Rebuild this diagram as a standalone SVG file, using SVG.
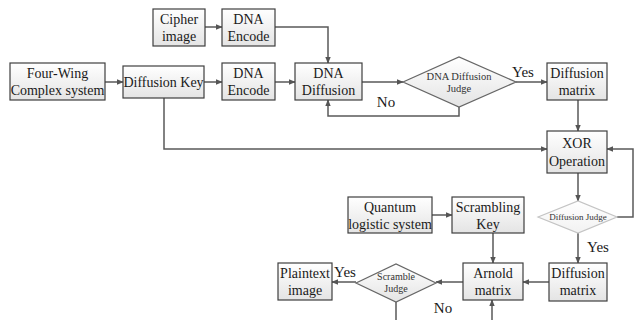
<svg xmlns="http://www.w3.org/2000/svg" width="634" height="320" viewBox="0 0 634 320">
<defs>
<linearGradient id="g" x1="0" y1="0" x2="0" y2="1"><stop offset="0" stop-color="#ffffff"/><stop offset="1" stop-color="#e4e4e4"/></linearGradient>
<linearGradient id="gl" x1="0" y1="0" x2="0" y2="1"><stop offset="0" stop-color="#ffffff"/><stop offset="1" stop-color="#f2f2f2"/></linearGradient>
<marker id="a" viewBox="0 0 10 10" refX="9" refY="5" markerWidth="7" markerHeight="7" markerUnits="userSpaceOnUse" orient="auto"><path d="M0,1 L10,5 L0,9 z" fill="#555"/></marker>
</defs>
<style>
.b{fill:url(#g);stroke:#3f3f3f;stroke-width:1.2}
.d{fill:url(#g);stroke:#666;stroke-width:1.2}
.dl{fill:url(#gl);stroke:#c4c4c4;stroke-width:1.2}
.t{font-family:'Liberation Serif',serif;font-size:14px;fill:#1a1a1a;text-anchor:middle}
.s{font-family:'Liberation Serif',serif;font-size:10.5px;fill:#333;text-anchor:middle}
.l{font-family:'Liberation Serif',serif;font-size:15px;fill:#1a1a1a;text-anchor:middle}
.c{fill:none;stroke:#595959;stroke-width:1.5}
</style>
<g id="connectors">
<path class="c" d="M205,27 H222" marker-end="url(#a)"/>
<path class="c" d="M275,27 H328 V63" marker-end="url(#a)"/>
<path class="c" d="M105,82 H123" marker-end="url(#a)"/>
<path class="c" d="M204,82 H222" marker-end="url(#a)"/>
<path class="c" d="M275,82 H295" marker-end="url(#a)"/>
<path class="c" d="M362,82 H403" marker-end="url(#a)"/>
<path class="c" d="M459,107 V116 H328 V100" marker-end="url(#a)"/>
<path class="c" d="M516,82 H547" marker-end="url(#a)"/>
<path class="c" d="M578,100 V131" marker-end="url(#a)"/>
<path class="c" d="M164,98 V149 H547" marker-end="url(#a)"/>
<path class="c" d="M578,173 V201" marker-end="url(#a)"/>
<path class="c" d="M617,217 H633 V149 H607" marker-end="url(#a)"/>
<path class="c" d="M578,233 V263" marker-end="url(#a)"/>
<path class="c" d="M549,282 H523" marker-end="url(#a)"/>
<path class="c" d="M463,282 H436" marker-end="url(#a)"/>
<path class="c" d="M356,282 H332" marker-end="url(#a)"/>
<path class="c" d="M432,215 H452" marker-end="url(#a)"/>
<path class="c" d="M493,233 V263" marker-end="url(#a)"/>
<path class="c" d="M396,302 V320"/>
<path class="c" d="M492,320 V300" marker-end="url(#a)"/>
<text class="l" x="523" y="77">Yes</text>
<text class="l" x="386" y="107">No</text>
<text class="l" x="598" y="252">Yes</text>
<text class="l" x="345" y="277">Yes</text>
<text class="l" x="443" y="313">No</text>
</g>
<g id="cipher"><rect class="b" x="153" y="9" width="52" height="37"/><text class="t" x="179" y="24">Cipher</text><text class="t" x="179" y="41">image</text></g>
<g id="encode1"><rect class="b" x="222" y="9" width="53" height="37"/><text class="t" x="248.5" y="24">DNA</text><text class="t" x="248.5" y="41">Encode</text></g>
<g id="fourwing"><rect class="b" x="10" y="63" width="95" height="37"/><text class="t" x="57.5" y="78">Four-Wing</text><text class="t" x="57.5" y="95">Complex system</text></g>
<g id="diffkey"><rect class="b" x="123" y="66" width="81" height="32"/><text class="t" x="163.5" y="87">Diffusion Key</text></g>
<g id="encode2"><rect class="b" x="222" y="63" width="53" height="37"/><text class="t" x="248.5" y="78">DNA</text><text class="t" x="248.5" y="95">Encode</text></g>
<g id="dnadiff"><rect class="b" x="295" y="63" width="67" height="37"/><text class="t" x="328.5" y="78">DNA</text><text class="t" x="328.5" y="95">Diffusion</text></g>
<g id="ddjudge"><path class="d" d="M403,82 L459,57 L516,82 L459,107 Z"/><text class="s" x="459" y="80">DNA Diffusion</text><text class="s" x="459" y="92">Judge</text></g>
<g id="diffmat1"><rect class="b" x="547" y="63" width="60" height="37"/><text class="t" x="577" y="78">Diffusion</text><text class="t" x="577" y="95">matrix</text></g>
<g id="xor"><rect class="b" x="547" y="131" width="60" height="42"/><text class="t" x="577" y="148">XOR</text><text class="t" x="577" y="166">Operation</text></g>
<g id="djudge"><path class="dl" d="M538,217 L578,201 L617,217 L578,233 Z"/><text class="s" style="font-size:9px" x="578" y="220">Diffusion Judge</text></g>
<g id="quantum"><rect class="b" x="348" y="197" width="84" height="36"/><text class="t" x="390" y="212">Quantum</text><text class="t" x="390" y="229">logistic system</text></g>
<g id="scrkey"><rect class="b" x="452" y="197" width="72" height="36"/><text class="t" x="488" y="212">Scrambling</text><text class="t" x="488" y="229">Key</text></g>
<g id="diffmat2"><rect class="b" x="549" y="263" width="58" height="38"/><text class="t" x="578" y="278">Diffusion</text><text class="t" x="578" y="295">matrix</text></g>
<g id="arnold"><rect class="b" x="463" y="263" width="60" height="37"/><text class="t" x="493" y="278">Arnold</text><text class="t" x="493" y="295">matrix</text></g>
<g id="sjudge"><path class="d" d="M356,283 L396,264 L436,283 L396,302 Z"/><text class="s" style="font-size:10px" x="396" y="280">Scramble</text><text class="s" style="font-size:10px" x="396" y="292">Judge</text></g>
<g id="plain"><rect class="b" x="278" y="263" width="54" height="37"/><text class="t" x="305" y="278">Plaintext</text><text class="t" x="305" y="295">image</text></g>
</svg>
